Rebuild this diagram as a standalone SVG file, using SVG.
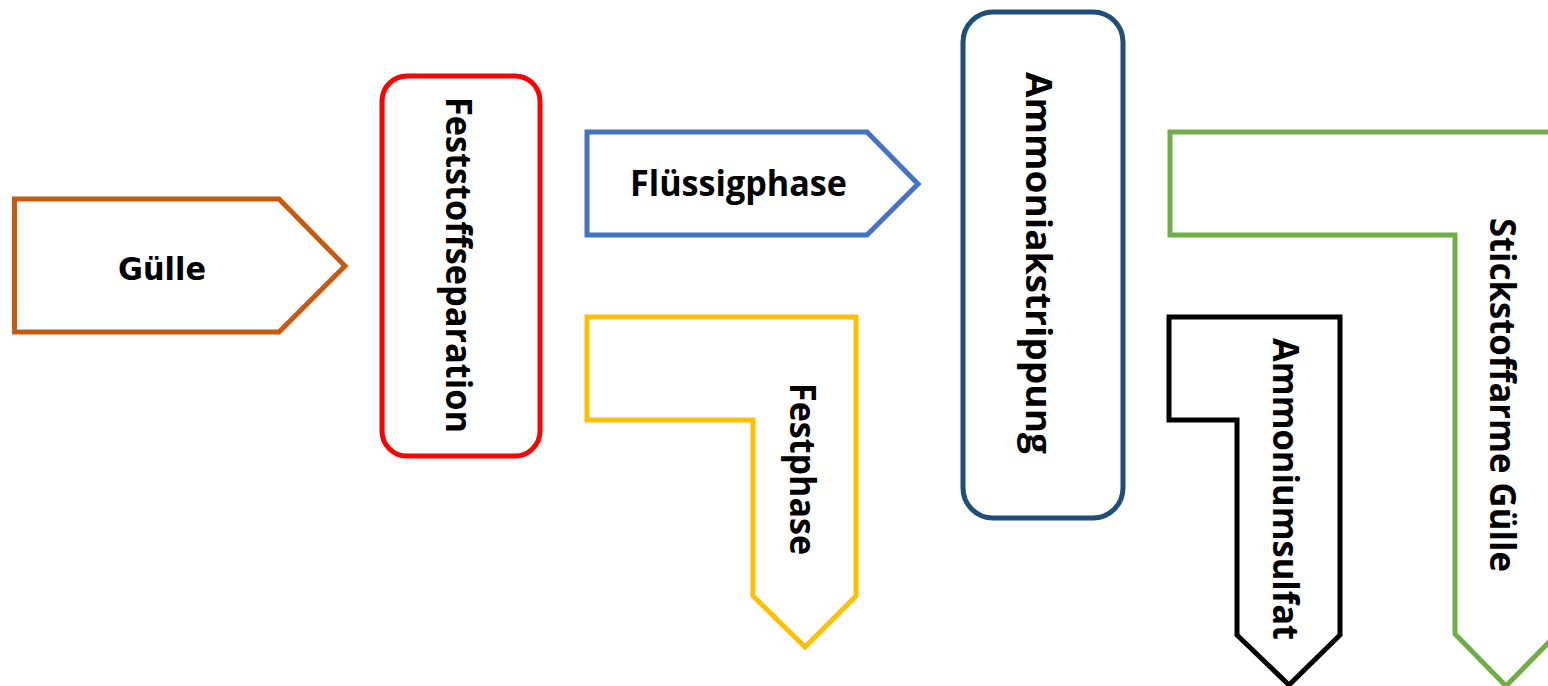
<svg xmlns="http://www.w3.org/2000/svg" width="1548" height="686" viewBox="0 0 1548 686">
<style>
.shape{fill:#ffffff;stroke-width:5;stroke-linejoin:miter}
.lbl{font-family:"Open Sans","Liberation Sans",sans-serif;font-weight:bold;font-size:36px;fill:#000000;text-anchor:middle}
.lbl2{font-family:"DejaVu Sans","Liberation Sans",sans-serif;font-weight:bold;font-size:32px;fill:#000000;text-anchor:middle}
</style>
<rect width="1548" height="686" fill="#ffffff"/>
<g id="guelle">
<polygon class="shape" stroke="#C55A11" points="14.5,199 279,199 345,266 279,332 14.5,332"/>
<text class="lbl2" x="162" y="280" textLength="88" lengthAdjust="spacingAndGlyphs">Gülle</text>
</g>
<g id="feststoffseparation">
<rect class="shape" stroke="#FF0000" stroke-width="6" x="382" y="76" width="158" height="380" rx="25"/>
<text class="lbl" transform="translate(446,265) rotate(90)" x="0" y="0" textLength="336" lengthAdjust="spacingAndGlyphs">Feststoffseparation</text>
</g>
<g id="fluessigphase">
<polygon class="shape" stroke="#4472C4" points="587,132 867,132 918,184 867,235 587,235"/>
<text class="lbl" x="738.5" y="196" textLength="217" lengthAdjust="spacingAndGlyphs">Flüssigphase</text>
</g>
<g id="festphase">
<polygon class="shape" stroke="#FFC000" points="587,317 856,317 856,596 805,647 753,596 753,420 587,420"/>
<text class="lbl" transform="translate(790,469) rotate(90)" x="0" y="0" textLength="172" lengthAdjust="spacingAndGlyphs">Festphase</text>
</g>
<g id="ammoniakstrippung">
<rect class="shape" stroke="#1F4E79" stroke-width="6" x="963" y="12" width="160" height="506" rx="30"/>
<text class="lbl" transform="translate(1026,263) rotate(90)" x="0" y="0" textLength="382" lengthAdjust="spacingAndGlyphs">Ammoniakstrippung</text>
</g>
<g id="ammoniumsulfat">
<polygon class="shape" stroke="#000000" points="1169,317 1340,317 1340,635 1289,685 1237,635 1237,420 1169,420"/>
<text class="lbl" transform="translate(1273,489) rotate(90)" x="0" y="0" textLength="302" lengthAdjust="spacingAndGlyphs">Ammoniumsulfat</text>
</g>
<g id="stickstoffarme-guelle">
<polygon class="shape" stroke="#70AD47" points="1170,132 1557,132 1557,634 1506,686 1455,634 1455,235 1170,235"/>
<text class="lbl" transform="translate(1490,395) rotate(90)" x="0" y="0" textLength="354" lengthAdjust="spacingAndGlyphs">Stickstoffarme Gülle</text>
</g>
<g id="connectors"></g>
</svg>
